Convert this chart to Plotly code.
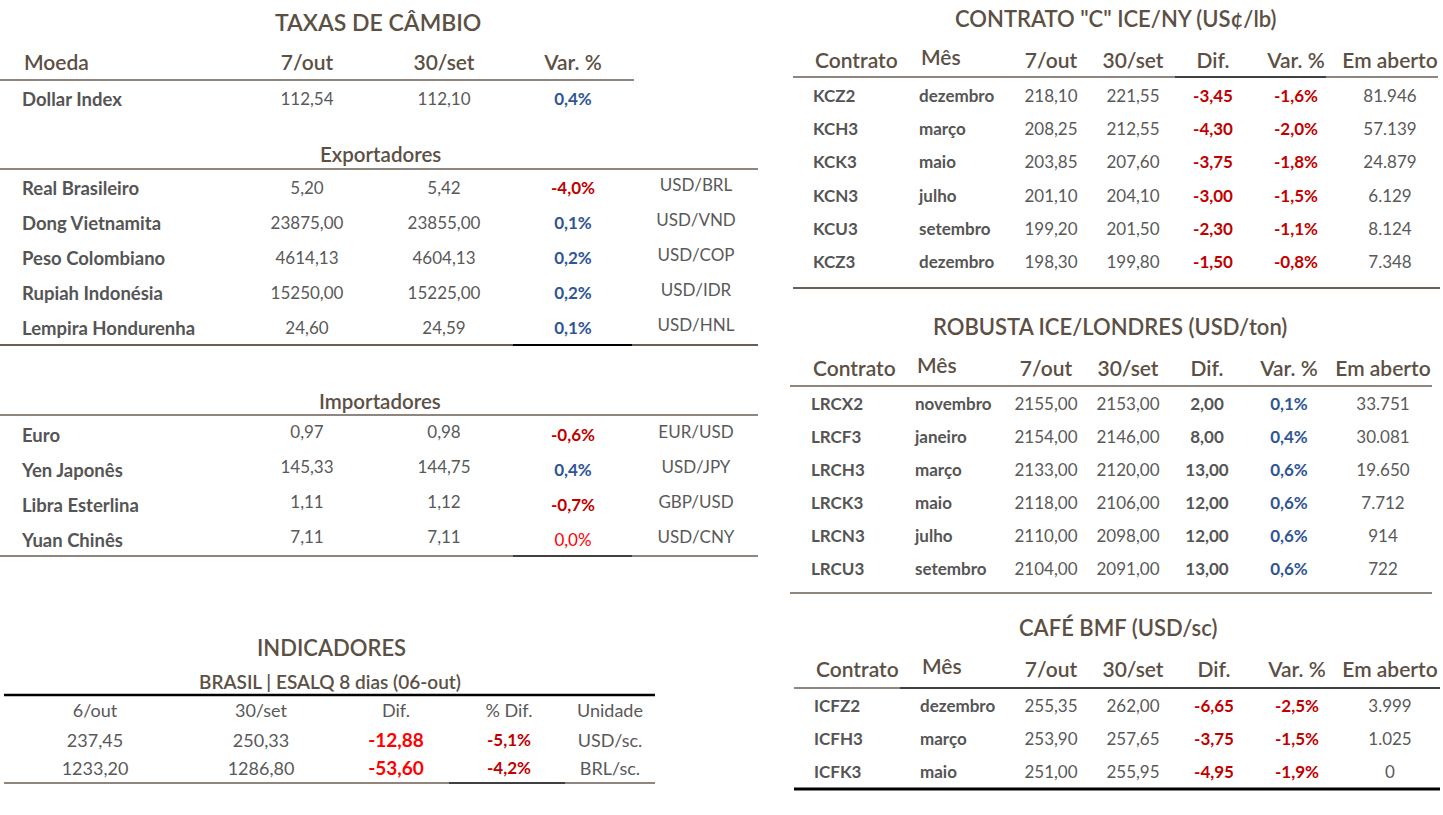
import plotly.graph_objects as go

# ---------------- DATA ----------------
fx_cols = ["Moeda", "7/out", "30/set", "Var. %"]
dollar_name = ["Dollar Index"]
dollar_now = [112.54]
dollar_prev = [112.10]
dollar_var = [0.4]

exp_names = ["Real Brasileiro", "Dong Vietnamita", "Peso Colombiano", "Rupiah Indonésia", "Lempira Hondurenha"]
exp_now = [5.20, 23875.00, 4614.13, 15250.00, 24.60]
exp_prev = [5.42, 23855.00, 4604.13, 15225.00, 24.59]
exp_var = [-4.0, 0.1, 0.2, 0.2, 0.1]
exp_pair = ["USD/BRL", "USD/VND", "USD/COP", "USD/IDR", "USD/HNL"]

imp_names = ["Euro", "Yen Japonês", "Libra Esterlina", "Yuan Chinês"]
imp_now = [0.97, 145.33, 1.11, 7.11]
imp_prev = [0.98, 144.75, 1.12, 7.11]
imp_var = [-0.6, 0.4, -0.7, 0.0]
imp_pair = ["EUR/USD", "USD/JPY", "GBP/USD", "USD/CNY"]

fut_cols = ["Contrato", "Mês", "7/out", "30/set", "Dif.", "Var. %", "Em aberto"]

kc_contracts = ["KCZ2", "KCH3", "KCK3", "KCN3", "KCU3", "KCZ3"]
kc_months = ["dezembro", "março", "maio", "julho", "setembro", "dezembro"]
kc_now = [218.10, 208.25, 203.85, 201.10, 199.20, 198.30]
kc_prev = [221.55, 212.55, 207.60, 204.10, 201.50, 199.80]
kc_dif = [-3.45, -4.30, -3.75, -3.00, -2.30, -1.50]
kc_var = [-1.6, -2.0, -1.8, -1.5, -1.1, -0.8]
kc_oi = [81946, 57139, 24879, 6129, 8124, 7348]

lrc_contracts = ["LRCX2", "LRCF3", "LRCH3", "LRCK3", "LRCN3", "LRCU3"]
lrc_months = ["novembro", "janeiro", "março", "maio", "julho", "setembro"]
lrc_now = [2155.00, 2154.00, 2133.00, 2118.00, 2110.00, 2104.00]
lrc_prev = [2153.00, 2146.00, 2120.00, 2106.00, 2098.00, 2091.00]
lrc_dif = [2.00, 8.00, 13.00, 12.00, 12.00, 13.00]
lrc_var = [0.1, 0.4, 0.6, 0.6, 0.6, 0.6]
lrc_oi = [33751, 30081, 19650, 7712, 914, 722]

icf_contracts = ["ICFZ2", "ICFH3", "ICFK3"]
icf_months = ["dezembro", "março", "maio"]
icf_now = [255.35, 253.90, 251.00]
icf_prev = [262.00, 257.65, 255.95]
icf_dif = [-6.65, -3.75, -4.95]
icf_var = [-2.5, -1.5, -1.9]
icf_oi = [3999, 1025, 0]

ind_cols = ["6/out", "30/set", "Dif.", "% Dif.", "Unidade"]
ind_now = [237.45, 1233.20]
ind_prev = [250.33, 1286.80]
ind_dif = [-12.88, -53.60]
ind_pct = [-5.1, -4.2]
ind_unit = ["USD/sc.", "BRL/sc."]

# ---------------- STYLE ----------------
FONT = "Lato"
TITLE_C = "#5c5045"
BODY_C = "#595959"
LABEL_C = "#555555"
BLUE = "#2f5597"
DRED = "#c00000"
BRED = "#ff0000"
LINE_C = "#6b5e53"
W, H = 1443, 815

BODY_S = 17
LABEL_S = 18.5
HEAD_S = 21
TITLE_S = 23
HEAD_W = 600


def f2(v, d=2):
    return f"{v:.{d}f}".replace(".", ",")


def fpct(v):
    return f2(v, 1) + "%"


def foi(v):
    return f"{v:,}".replace(",", ".")


def var_color(v):
    if v > 0:
        return BLUE
    if v < 0:
        return DRED
    return BRED


def var_weight(v):
    return 400 if v == 0 else 700


fig = go.Figure()


def col(x, ys, texts, colors, size=BODY_S, weight=400, align="center"):
    if isinstance(colors, str):
        colors = [colors] * len(texts)
    if isinstance(weight, int):
        weight = [weight] * len(texts)
    pos = {"center": "middle center", "left": "middle right", "right": "middle left"}[align]
    fig.add_trace(go.Scatter(
        x=[x] * len(texts), y=ys, text=texts, mode="text", textposition=pos,
        textfont=dict(family=FONT, size=size, color=colors, weight=weight),
        hoverinfo="skip", showlegend=False, cliponaxis=False))


def rows(start, step, n):
    return [start + i * step for i in range(n)]


def title(x, y, text, size=TITLE_S, weight=HEAD_W, color=TITLE_C):
    fig.add_annotation(x=x, y=y, xref="x", yref="y", text=text,
                       showarrow=False, font=dict(family=FONT, size=size, color=color, weight=weight),
                       xanchor="center", yanchor="middle")


def hline(x0, x1, y, color=LINE_C, width=1.5):
    fig.add_shape(type="line", x0=x0, x1=x1, y0=y, y1=y, xref="x", yref="y",
                  line=dict(color=color, width=width))


# ---------------- TAXAS DE CÂMBIO ----------------
title(378, 22, "TAXAS DE CÂMBIO")
fx_x = [24, 307, 444, 573]
col(fx_x[0], [65], [fx_cols[0]], TITLE_C, HEAD_S, HEAD_W, "left")
for i in range(1, 4):
    col(fx_x[i], [65], [fx_cols[i]], TITLE_C, HEAD_S, HEAD_W)
hline(0, 634, 80)

yd = [101]
col(22, yd, dollar_name, LABEL_C, LABEL_S, 700, "left")
col(307, yd, [f2(v) for v in dollar_now], BODY_C)
col(444, yd, [f2(v) for v in dollar_prev], BODY_C)
col(573, yd, [fpct(v) for v in dollar_var], [var_color(v) for v in dollar_var], BODY_S,
    [var_weight(v) for v in dollar_var])

title(380, 154, "Exportadores", 20.5, 600)
hline(0, 758, 169)
ye = rows(190, 35, len(exp_names))
col(22, ye, exp_names, LABEL_C, LABEL_S, 700, "left")
col(307, ye, [f2(v) for v in exp_now], BODY_C)
col(444, ye, [f2(v) for v in exp_prev], BODY_C)
col(573, ye, [fpct(v) for v in exp_var], [var_color(v) for v in exp_var], BODY_S,
    [var_weight(v) for v in exp_var])
col(696, [y - 3 for y in ye], exp_pair, BODY_C)
hline(0, 513, 345, width=2)
hline(513, 632, 345, "#000000", 2)
hline(632, 758, 345, width=2)

title(380, 401, "Importadores", 20.5, 600)
hline(0, 758, 415)
yi = rows(437, 35, len(imp_names))
col(22, yi, imp_names, LABEL_C, LABEL_S, 700, "left")
col(307, [y - 3 for y in yi], [f2(v) for v in imp_now], BODY_C)
col(444, [y - 3 for y in yi], [f2(v) for v in imp_prev], BODY_C)
col(573, yi, [fpct(v) for v in imp_var], [var_color(v) for v in imp_var], BODY_S,
    [var_weight(v) for v in imp_var])
col(696, [y - 3 for y in yi], imp_pair, BODY_C)
hline(0, 513, 556)
hline(513, 632, 556, "#000000", 1.5)
hline(632, 758, 556)

# ---------------- INDICADORES ----------------
title(331, 647, "INDICADORES", 22)
title(330, 681, "BRASIL | ESALQ 8 dias (06-out)", 19, 600)
hline(4, 655, 695, "#000000", 2.5)
ind_x = [95, 261, 396, 509, 610]
for i, c in enumerate(ind_cols):
    col(ind_x[i], [712], [c], BODY_C, 18)
yn = rows(742, 28, len(ind_now))
col(ind_x[0], yn, [f2(v) for v in ind_now], BODY_C, 18)
col(ind_x[1], yn, [f2(v) for v in ind_prev], BODY_C, 18)
col(ind_x[2], yn, [f2(v) for v in ind_dif], BRED, 19, 700)
col(ind_x[3], yn, [fpct(v) for v in ind_pct], DRED, 17, 700)
col(ind_x[4], yn, ind_unit, BODY_C, 18)
hline(4, 449, 783)
hline(449, 565, 783, "#000000", 1.5)
hline(565, 655, 783)


# ---------------- FUTURES TABLES ----------------
def dif_color(v):
    return DRED if v < 0 else LABEL_C


def fut_table(ttl, ty, hy, xs, contracts, months, now, prev, dif, var, oi, r0, step):
    title(xs["title"], ty, ttl, 22)
    col(xs["c"], [hy], [fut_cols[0]], TITLE_C, HEAD_S, HEAD_W, "left")
    col(xs["m"], [hy - 3], [fut_cols[1]], TITLE_C, HEAD_S, HEAD_W, "left")
    for k, key in enumerate(["n", "p", "d", "v", "o"]):
        col(xs[key], [hy], [fut_cols[k + 2]], TITLE_C, HEAD_S, HEAD_W)
    ys = rows(r0, step, len(contracts))
    col(xs["c"] - 2, ys, contracts, LABEL_C, 17, 700, "left")
    col(xs["m"] - 2, ys, months, LABEL_C, 17, 700, "left")
    col(xs["n"], ys, [f2(v) for v in now], BODY_C)
    col(xs["p"], ys, [f2(v) for v in prev], BODY_C)
    col(xs["d"], ys, [f2(v) for v in dif], [dif_color(v) for v in dif], BODY_S, 700)
    col(xs["v"], ys, [fpct(v) for v in var], [var_color(v) for v in var], BODY_S, 700)
    col(xs["o"], ys, [foi(v) for v in oi], BODY_C)
    return ys


kc_x = dict(title=1116, c=815, m=921, n=1051, p=1133, d=1213, v=1296, o=1390)
fut_table('CONTRATO "C" ICE/NY (US¢/lb)', 18.5, 63, kc_x, kc_contracts, kc_months,
          kc_now, kc_prev, kc_dif, kc_var, kc_oi, 97.5, 33.3)
hline(793, 1175, 77)
hline(1175, 1326, 77, "#000000", 1.5)
hline(1326, 1438, 77)
hline(793, 1440, 288, width=2)

lrc_x = dict(title=1110, c=813, m=917, n=1046, p=1128, d=1207, v=1289, o=1383)
fut_table("ROBUSTA ICE/LONDRES (USD/ton)", 326, 371, lrc_x, lrc_contracts, lrc_months,
          lrc_now, lrc_prev, lrc_dif, lrc_var, lrc_oi, 406, 33)
hline(790, 1432, 386)
hline(790, 1432, 593)

icf_x = dict(title=1118, c=816, m=922, n=1051, p=1133, d=1214, v=1297, o=1390)
fut_table("CAFÉ BMF (USD/sc)", 627, 672, icf_x, icf_contracts, icf_months,
          icf_now, icf_prev, icf_dif, icf_var, icf_oi, 708, 33)
hline(794, 900, 688)
hline(900, 1440, 688, "#000000", 1.5)
hline(794, 1440, 789, "#000000", 3)

fig.update_layout(
    width=W, height=H, margin=dict(l=0, r=0, t=0, b=0),
    paper_bgcolor="white", plot_bgcolor="white",
    xaxis=dict(range=[0, W], visible=False, fixedrange=True),
    yaxis=dict(range=[H, 0], visible=False, fixedrange=True),
)
fig.write_html(
    "out.html",
    config={"displayModeBar": False},
    post_script="document.body.style.margin='0';document.body.style.overflow='hidden';",
)
